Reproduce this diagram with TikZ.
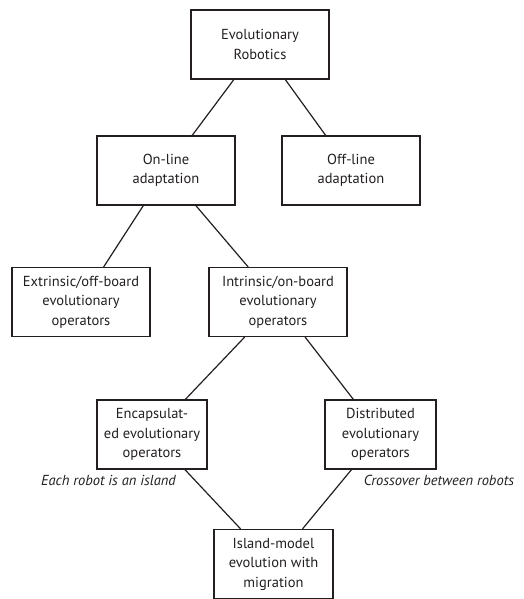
\documentclass[tikz,border=0pt]{standalone}
\usepackage{fontspec}
\setmainfont{PT Sans}
\definecolor{ink}{HTML}{231F20}

\begin{document}
\begin{tikzpicture}[x=1pt,y=-1pt,
  box/.style={draw=ink,text=ink,line width=1.2pt,minimum width=138pt,minimum height=69pt,inner sep=1pt,align=center,font=\fontsize{14.5}{19.5}\selectfont},
  note/.style={text=ink,inner sep=0pt,font=\fontsize{14.5}{19.5}\selectfont\itshape},
  link/.style={draw=ink,line width=1.2pt}]
\useasboundingbox (0,0) rectangle (523,599);

\node [box] (evo) at (260,44.5) {Evolutionary\\Robotics};
\node [box] (online) at (166,170.5) {On-line\\adaptation};
\node [box] (offline) at (351,170.5) {Off-line\\adaptation};
\node [box] (extr) at (81,302) {Extrinsic/off-board\\evolutionary\\operators};
\node [box] (intr) at (278,302) {Intrinsic/on-board\\evolutionary\\operators};
\node [box,minimum width=110pt] (encap) at (152,434.5) {Encapsulat-\\ed evolutionary\\operators};
\node [box,minimum width=111pt] (distr) at (380.5,434.5) {Distributed\\evolutionary\\operators};
\node [box,minimum width=119pt] (island) at (273.5,564) {Island-model\\evolution with\\migration};

\node [note] (eachnote) at (108.5,480) {Each robot is an island};
\node [note] (crossnote) at (439,480) {Crossover between robots};

\draw [link] (evo) -- (online);
\draw [link] (evo) -- (offline);
\draw [link] (online) -- (extr);
\draw [link] (online) -- (intr);
\draw [link] (intr) -- (encap);
\draw [link] (intr) -- (distr);
\draw [link] (encap) -- (island);
\draw [link] (distr) -- (island);
\end{tikzpicture}
\end{document}
